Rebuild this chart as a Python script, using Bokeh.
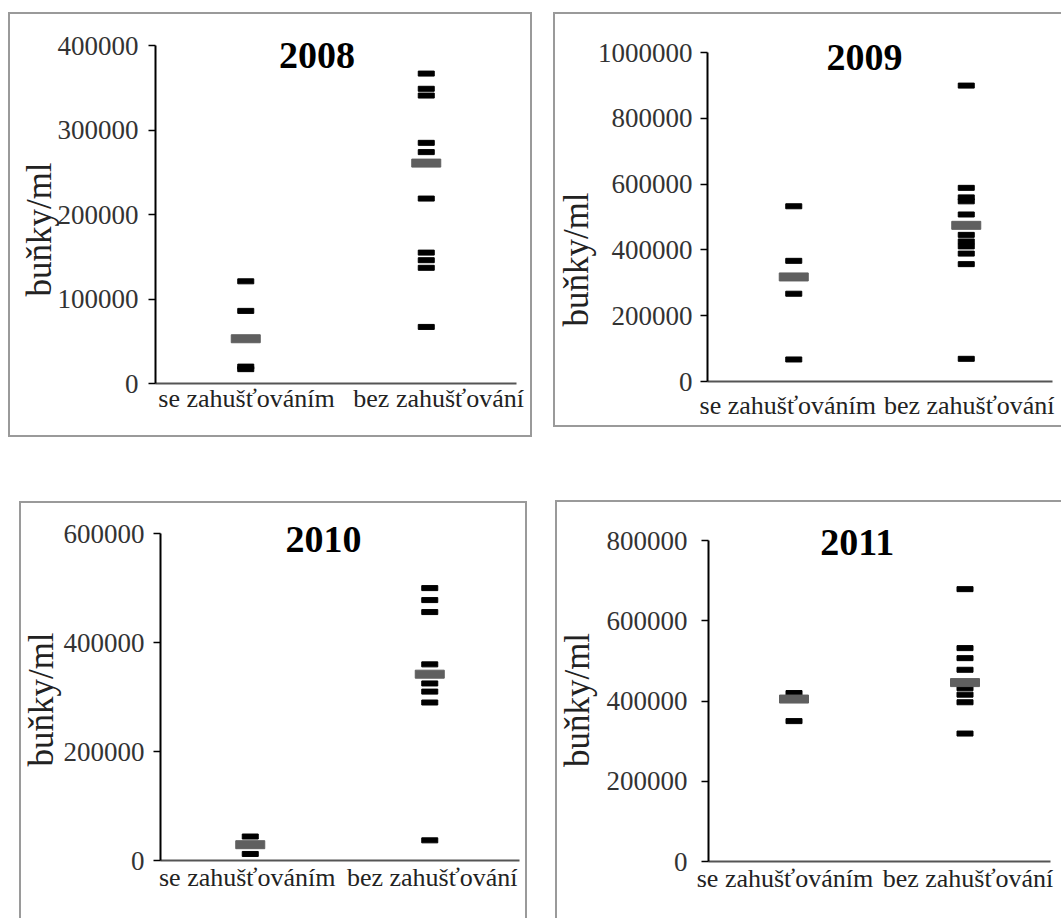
import math
from bokeh.plotting import figure
from bokeh.models import (Range1d, FixedTicker, NumeralTickFormatter, Label,
                          Spacer, LinearAxis)
from bokeh.layouts import row, column
from bokeh.embed import file_html
from bokeh.resources import INLINE

categories = ["se zahušťováním", "bez zahušťování"]
y_label = "buňky/ml"

# 2008
se_2008 = [121000, 86000, 20000, 17000]
bez_2008 = [367000, 349000, 341000, 285000, 274000, 219000, 155000, 146000, 137000, 67000]
mean_2008 = [53000, 261000]
ticks_2008 = [0, 100000, 200000, 300000, 400000]

# 2009
se_2009 = [533000, 367000, 267000, 67000]
bez_2009 = [900000, 589000, 560000, 548000, 508000, 446000, 426000, 411000, 389000, 357000, 69000]
mean_2009 = [318000, 475000]
ticks_2009 = [0, 200000, 400000, 600000, 800000, 1000000]

# 2010
se_2010 = [44000, 29000, 12000]
bez_2010 = [500000, 478000, 456000, 360000, 325000, 310000, 290000, 37000]
mean_2010 = [29000, 342000]
ticks_2010 = [0, 200000, 400000, 600000]

# 2011
se_2011 = [420000, 408000, 350000]
bez_2011 = [679000, 532000, 507000, 478000, 432000, 416000, 397000, 319000]
mean_2011 = [405000, 446000]
ticks_2011 = [0, 200000, 400000, 600000, 800000]

SERIF = "Liberation Serif"
BORDER = "2px solid #9a9a9a"
HEADROOM = 20  # px of plot area above the top tick (room for the year title)

# category positions on a numeric axis: category i sits at i + 0.5
cat_pos = [i + 0.5 for i in range(len(categories))]


def panel(year, se, bez, means, ticks, w, h, mb, frame_w, lab_ctr, title_xy,
          ystd, xstd, css, ylab_xy):
    axis_h = h - mb[2] - mb[3]
    top = ticks[-1] * (axis_h + HEADROOM) / axis_h
    p = figure(width=w, height=h, x_range=Range1d(0, len(categories)),
               y_range=Range1d(0, top), output_backend="svg",
               toolbar_location=None, title=None, x_axis_location=None,
               min_border_left=mb[0], min_border_right=mb[1],
               min_border_top=mb[2] - HEADROOM, min_border_bottom=mb[3], styles=css)
    p.background_fill_color = "white"
    p.border_fill_color = "white"
    p.outline_line_color = None
    p.xgrid.grid_line_color = None
    p.ygrid.grid_line_color = None

    yax = p.yaxis[0]
    yax.bounds = (0, ticks[-1])
    yax.ticker = FixedTicker(ticks=ticks)
    yax.formatter = NumeralTickFormatter(format="0")
    yax.major_tick_out = 7
    yax.major_tick_in = 0
    yax.minor_tick_line_color = None
    yax.axis_line_color = "black"
    yax.axis_line_width = 2
    yax.major_tick_line_color = "black"
    yax.major_tick_line_width = 1.5
    yax.major_label_text_font = SERIF
    yax.major_label_text_font_size = "27px"
    yax.major_label_text_color = "#333333"
    yax.major_label_standoff = ystd

    # category labels on a helper axis so their spacing follows the reference
    a_px, b_px = lab_ctr
    k = b_px - a_px
    s = cat_pos[0] - a_px / k
    e = s + frame_w / k
    p.extra_x_ranges = {"lab": Range1d(s, e)}
    xax = LinearAxis(x_range_name="lab", ticker=FixedTicker(ticks=cat_pos),
                     major_label_overrides=dict(zip(cat_pos, categories)))
    xax.major_tick_line_color = None
    xax.minor_tick_line_color = None
    xax.major_tick_out = 0
    xax.major_tick_in = 0
    xax.axis_line_color = "#555555"
    xax.axis_line_width = 2
    xax.major_label_text_font = SERIF
    xax.major_label_text_font_size = "26px"
    xax.major_label_text_color = "#222222"
    xax.major_label_standoff = xstd
    p.add_layout(xax, "below")

    p.rect(x=[cat_pos[0]] * len(se), y=se, width=16, height=5,
           width_units="screen", height_units="screen", color="black")
    p.rect(x=[cat_pos[1]] * len(bez), y=bez, width=16, height=5,
           width_units="screen", height_units="screen", color="black")
    p.rect(x=cat_pos, y=means, width=29, height=8,
           width_units="screen", height_units="screen", color="#5f5f5f")

    p.add_layout(Label(x=ylab_xy[0], y=ylab_xy[1], x_units="screen", y_units="screen",
                       text=y_label, angle=math.pi / 2, text_align="center",
                       text_baseline="middle", text_font=SERIF,
                       text_font_size="35px", text_color="#222222"), "left")

    p.add_layout(Label(x=title_xy[0], y=title_xy[1], x_units="screen", y_units="screen",
                       text=year, text_align="center", text_baseline="middle",
                       text_font=SERIF, text_font_style="bold",
                       text_font_size="38px", text_color="black"))
    return p


f1 = panel("2008", se_2008, bez_2008, mean_2008, ticks_2008, 520, 421,
           (145, 18, 31, 56), 357, (90, 280), (161.5, 328), 10, 0,
           {"box-sizing": "content-box", "border": BORDER}, (23.8, 154))
f2 = panel("2009", se_2009, bez_2009, mean_2009, ticks_2009, 506, 411,
           (147, 11, 38, 48), 348, (81, 264), (157, 324.5), 8, 9,
           {"box-sizing": "content-box", "border-left": BORDER,
            "border-top": BORDER, "border-bottom": BORDER}, (20.8, 122))
f3 = panel("2010", se_2010, bez_2010, mean_2010, ticks_2010, 504, 415,
           (136, 10, 30, 60), 358, (86.5, 271), (163, 321), 9, 2,
           {"box-sizing": "content-box", "border-left": BORDER,
            "border-top": BORDER, "border-right": BORDER}, (19.5, 161))
f4 = panel("2011", se_2011, bez_2011, mean_2011, ticks_2011, 504, 416,
           (151, 13, 38, 59), 340, (76, 258), (148.7, 319), 14, 2,
           {"box-sizing": "content-box", "border-left": BORDER, "border-top": BORDER},
           (13, 161.5))

left = column(Spacer(width=1, height=12), row(Spacer(width=8, height=1), f1),
              Spacer(width=1, height=64), row(Spacer(width=19, height=1), f3))
right = column(Spacer(width=1, height=12), f2, Spacer(width=1, height=73),
               row(Spacer(width=2, height=1), f4))
page = row(left, Spacer(width=21, height=1), right)

open("out.html", "w").write(file_html(page, INLINE))
